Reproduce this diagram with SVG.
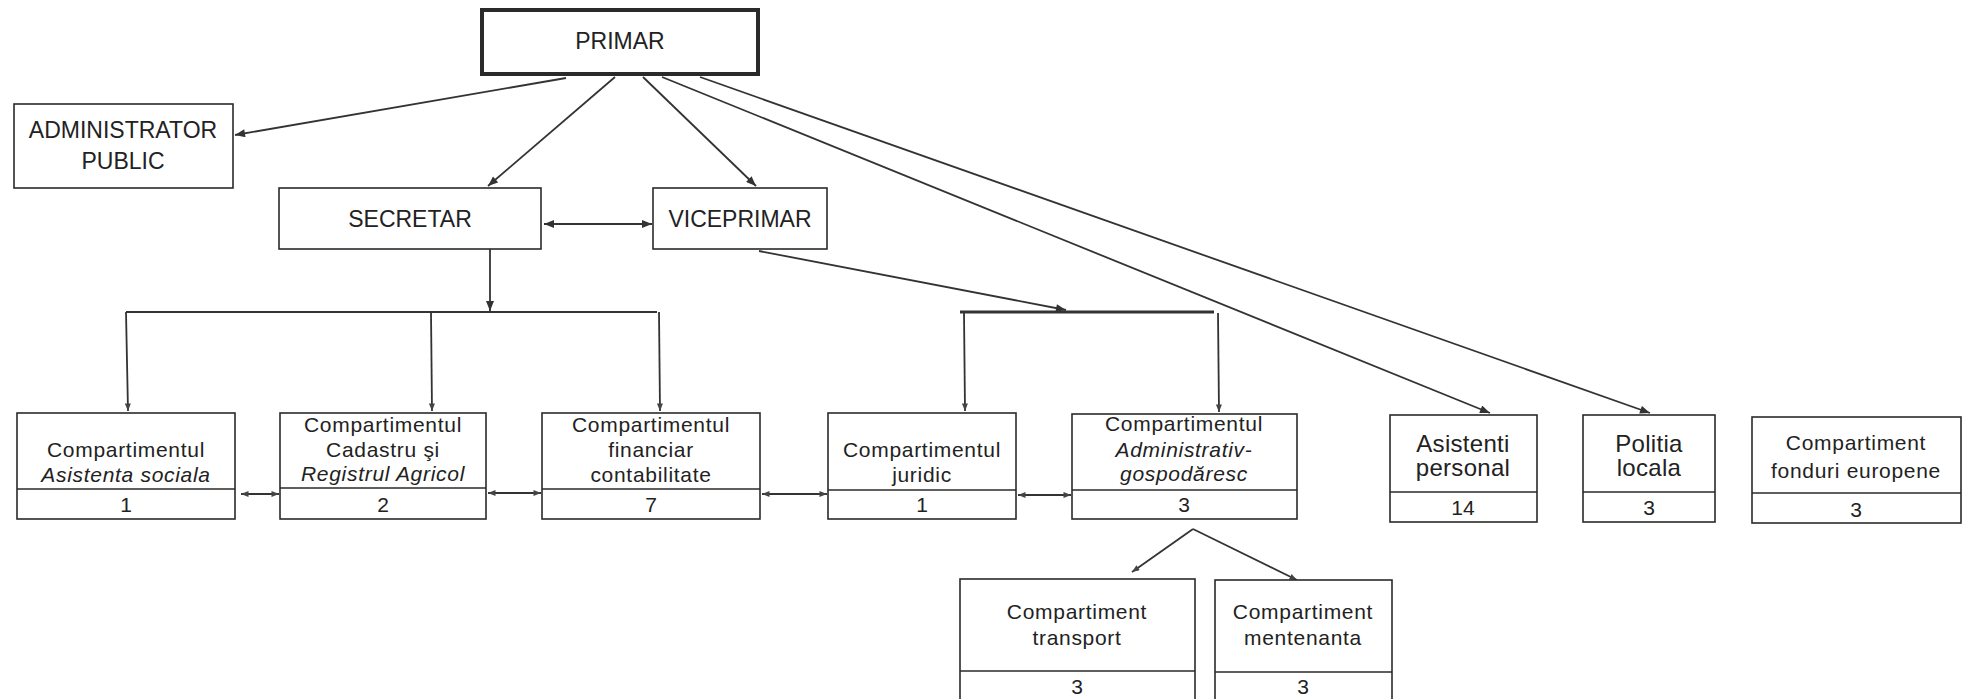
<svg xmlns="http://www.w3.org/2000/svg" width="1966" height="699" viewBox="0 0 1966 699">
<style>
.bx{fill:#fff;stroke:#2a2a2a;stroke-width:1.6}
.dv{stroke:#2a2a2a;stroke-width:1.6}
.cn{stroke:#333;stroke-width:1.8;fill:none}
text{font-family:"Liberation Sans",Arial,sans-serif;fill:#222;text-anchor:middle}
.h{font-size:23px}
.t{font-size:21px;letter-spacing:0.7px}
.i{font-style:italic}
.n{font-size:21px}
.b{font-size:24px;letter-spacing:0.3px}
</style>
<defs>
<marker id="ah" viewBox="0 0 10 8" refX="10" refY="4" markerWidth="11" markerHeight="8" markerUnits="userSpaceOnUse" orient="auto-start-reverse"><path d="M0,0 L10,4 L0,8 z" fill="#333"/></marker>
<marker id="as" viewBox="0 0 10 8" refX="10" refY="4" markerWidth="8" markerHeight="6" markerUnits="userSpaceOnUse" orient="auto-start-reverse"><path d="M0,0 L10,4 L0,8 z" fill="#444"/></marker>
</defs>
<rect width="1966" height="699" fill="#fff"/>
<g id="connectors">
<path class="cn" d="M566,78 L235,135" marker-end="url(#ah)"/>
<path class="cn" d="M615,77 L488,186" marker-end="url(#ah)"/>
<path class="cn" d="M643,77 L756,186" marker-end="url(#ah)"/>
<path class="cn" d="M662,77 L1490,413" marker-end="url(#ah)"/>
<path class="cn" d="M700,77 L1650,413" marker-end="url(#ah)"/>
<path class="cn" d="M544,224 L652,224" marker-start="url(#ah)" marker-end="url(#ah)"/>
<path class="cn" d="M490,249 L490,311" marker-end="url(#ah)"/>
<path class="cn" d="M126,312 L657,312"/>
<path class="cn" d="M126,312 L128,411" marker-end="url(#as)"/>
<path class="cn" d="M431,312 L432,411" marker-end="url(#as)"/>
<path class="cn" d="M659,312 L660,411" marker-end="url(#as)"/>
<path class="cn" d="M759,251 L1066,310" marker-end="url(#ah)"/>
<path class="cn" d="M960,312 L1214,312" style="stroke-width:3"/>
<path class="cn" d="M964,313 L965,411" marker-end="url(#as)"/>
<path class="cn" d="M1218,313 L1219,412" marker-end="url(#as)"/>
<path class="cn" d="M241,494 L279,494" marker-start="url(#as)" marker-end="url(#as)"/>
<path class="cn" d="M488,493 L541,493" marker-start="url(#as)" marker-end="url(#as)"/>
<path class="cn" d="M762,494 L827,494" marker-start="url(#as)" marker-end="url(#as)"/>
<path class="cn" d="M1018,495 L1071,495" marker-start="url(#as)" marker-end="url(#as)"/>
<path class="cn" d="M1193,529 L1132,572" marker-end="url(#as)"/>
<path class="cn" d="M1193,529 L1297,580" marker-end="url(#as)"/>
</g>
<g id="primar"><rect class="bx" x="482" y="10" width="276" height="64" style="stroke-width:4"/><text class="h" x="620" y="49">PRIMAR</text></g>
<g id="administrator"><rect class="bx" x="14" y="104" width="219" height="84"/><text class="h" x="123" y="138">ADMINISTRATOR</text><text class="h" x="123" y="169">PUBLIC</text></g>
<g id="secretar"><rect class="bx" x="279" y="188" width="262" height="61"/><text class="h" x="410" y="227">SECRETAR</text></g>
<g id="viceprimar"><rect class="bx" x="653" y="188" width="174" height="61"/><text class="h" x="740" y="227">VICEPRIMAR</text></g>
<g id="asistenta-sociala"><rect class="bx" x="17" y="413" width="218" height="106"/><line class="dv" x1="17" y1="489" x2="235" y2="489"/><text class="t" x="126" y="457">Compartimentul</text><text class="t i" x="126" y="482">Asistenta sociala</text><text class="n" x="126" y="512">1</text></g>
<g id="cadastru"><rect class="bx" x="280" y="413" width="206" height="106"/><line class="dv" x1="280" y1="488" x2="486" y2="488"/><text class="t" x="383" y="432">Compartimentul</text><text class="t" x="383" y="457">Cadastru şi</text><text class="t i" x="383" y="481">Registrul Agricol</text><text class="n" x="383" y="512">2</text></g>
<g id="financiar"><rect class="bx" x="542" y="413" width="218" height="106"/><line class="dv" x1="542" y1="489" x2="760" y2="489"/><text class="t" x="651" y="432">Compartimentul</text><text class="t" x="651" y="457">financiar</text><text class="t" x="651" y="482">contabilitate</text><text class="n" x="651" y="512">7</text></g>
<g id="juridic"><rect class="bx" x="828" y="413" width="188" height="106"/><line class="dv" x1="828" y1="490" x2="1016" y2="490"/><text class="t" x="922" y="457">Compartimentul</text><text class="t" x="922" y="482">juridic</text><text class="n" x="922" y="512">1</text></g>
<g id="administrativ"><rect class="bx" x="1072" y="414" width="225" height="105"/><line class="dv" x1="1072" y1="490" x2="1297" y2="490"/><text class="t" x="1184" y="431">Compartimentul</text><text class="t i" x="1184" y="457">Administrativ-</text><text class="t i" x="1184" y="481">gospodăresc</text><text class="n" x="1184" y="512">3</text></g>
<g id="asistenti"><rect class="bx" x="1390" y="415" width="147" height="107"/><line class="dv" x1="1390" y1="492" x2="1537" y2="492"/><text class="b" x="1463" y="452">Asistenti</text><text class="b" x="1463" y="476">personal</text><text class="n" x="1463" y="515">14</text></g>
<g id="politia"><rect class="bx" x="1583" y="415" width="132" height="107"/><line class="dv" x1="1583" y1="492" x2="1715" y2="492"/><text class="b" x="1649" y="452">Politia</text><text class="b" x="1649" y="476">locala</text><text class="n" x="1649" y="515">3</text></g>
<g id="fonduri"><rect class="bx" x="1752" y="417" width="209" height="106"/><line class="dv" x1="1752" y1="493" x2="1961" y2="493"/><text class="t" x="1856" y="450">Compartiment</text><text class="t" x="1856" y="478">fonduri europene</text><text class="n" x="1856" y="517">3</text></g>
<g id="transport"><rect class="bx" x="960" y="579" width="235" height="140"/><line class="dv" x1="960" y1="671" x2="1195" y2="671"/><text class="t" x="1077" y="619">Compartiment</text><text class="t" x="1077" y="645">transport</text><text class="n" x="1077" y="694">3</text></g>
<g id="mentenanta"><rect class="bx" x="1215" y="580" width="177" height="140"/><line class="dv" x1="1215" y1="672" x2="1392" y2="672"/><text class="t" x="1303" y="619">Compartiment</text><text class="t" x="1303" y="645">mentenanta</text><text class="n" x="1303" y="694">3</text></g>
</svg>
